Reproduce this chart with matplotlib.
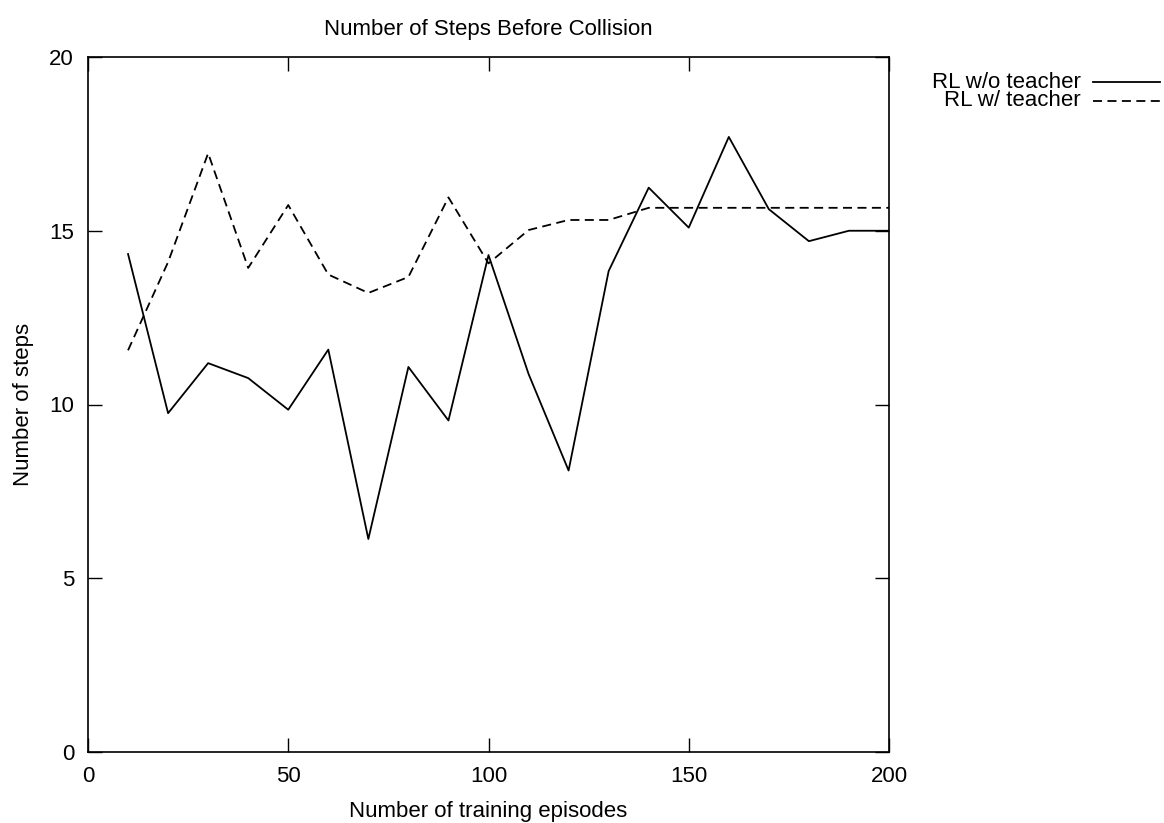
import matplotlib
matplotlib.use("Agg")
import matplotlib.pyplot as plt
from matplotlib.lines import Line2D

plt.rcParams['font.family'] = ['Liberation Sans', 'DejaVu Sans']

# training episodes
episodes = [10, 20, 30, 40, 50, 60, 70, 80, 90, 100,
            110, 120, 130, 140, 150, 160, 170, 180, 190, 200]

# steps before collision, RL without teacher
steps_no_teacher = [14.33, 9.75, 11.19, 10.76, 9.85, 11.58, 6.13, 11.08, 9.54, 14.3,
                    10.88, 8.10, 13.84, 16.24, 15.09, 17.7, 15.62, 14.70, 15.0, 15.0]

# steps before collision, RL with teacher
steps_teacher = [11.56, 14.1, 17.23, 13.93, 15.74, 13.74, 13.21, 13.67, 15.96, 14.06,
                 15.02, 15.31, 15.31, 15.66, 15.66, 15.66, 15.66, 15.66, 15.66, 15.66]

labels = ["RL w/o teacher", "RL w/ teacher"]
x_ticks = [0, 50, 100, 150, 200]
y_ticks = [0, 5, 10, 15, 20]

FS = 16
W, H = 1164, 823
fig = plt.figure(figsize=(W / 100, H / 100), dpi=100)
ax = fig.add_axes([88 / W, 1 - 752 / H, (889 - 88) / W, (752 - 57) / H])

dash = (0, (5, 3))
ax.plot(episodes, steps_no_teacher, color='black', lw=1.3, linestyle='-')
ax.plot(episodes, steps_teacher, color='black', lw=1.3, linestyle=dash)

ax.set_xlim(0, 200)
ax.set_ylim(0, 20)
ax.set_xticks(x_ticks)
ax.set_yticks(y_ticks)
ax.tick_params(direction='in', length=10, width=1, top=True, right=True,
               labelsize=FS, pad=10)
for s in ax.spines.values():
    s.set_linewidth(1.2)

ax.set_xlabel("Number of training episodes", fontsize=FS, labelpad=10)
ax.set_ylabel("Number of steps", fontsize=FS, labelpad=11)
ax.set_title("Number of Steps Before Collision", fontsize=FS, pad=16)

# legend outside on the right, text right-aligned with sample line after it
styles = ['-', dash]
for i, (lab, ls) in enumerate(zip(labels, styles)):
    yy = 1 - (82 + 19 * i) / H
    fig.text(1081 / W, yy, lab, ha='right', va='center', fontsize=FS)
    fig.add_artist(Line2D([1093 / W, 1160 / W], [yy, yy], color='black',
                          lw=1.3, linestyle=ls, transform=fig.transFigure))

fig.savefig("out.png", dpi=100)
